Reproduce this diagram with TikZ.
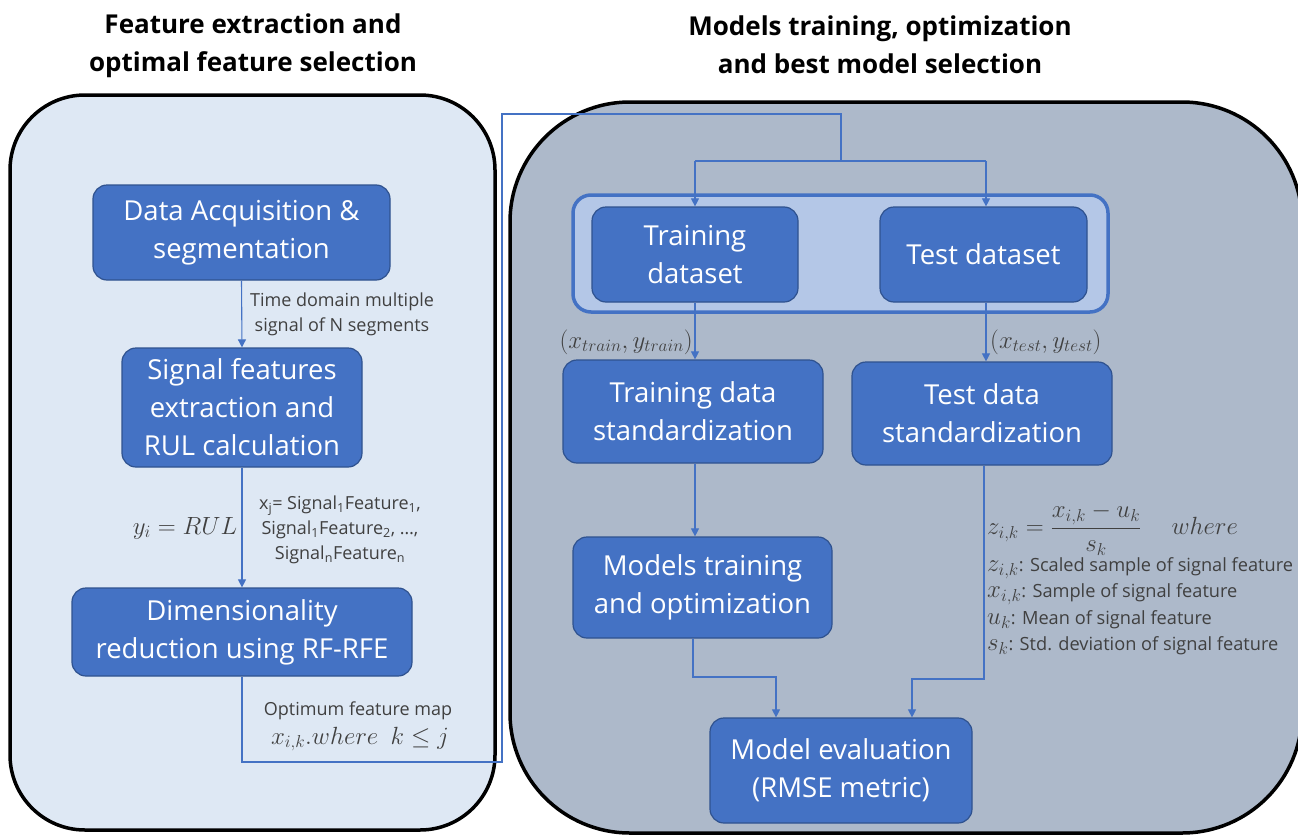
\documentclass[tikz,border=0pt]{standalone}
\usepackage{fontspec}
\setmainfont{Open Sans}
\usetikzlibrary{arrows.meta}
\definecolor{boxfill}{HTML}{4472C4}
\definecolor{boxborder}{HTML}{2F528F}
\definecolor{leftfill}{HTML}{DEE8F4}
\definecolor{rightfill}{HTML}{ADB9CA}
\definecolor{groupfill}{HTML}{B4C7E7}
\definecolor{linec}{HTML}{4472C4}
\definecolor{labelc}{HTML}{404040}
\newcommand{\legmath}[1]{{\fontsize{23}{22}\selectfont$#1$}}
\begin{document}
\begin{tikzpicture}[x=1pt,y=-1pt,
  box/.style={draw=boxborder, line width=1.2pt, fill=boxfill, rounded corners=14pt, text=white, align=center, font=\fontsize{27.5}{38}\selectfont, inner sep=0pt},
  conn/.style={draw=linec, line width=1.1pt},
  arr/.style={conn, -{Triangle[length=8pt,width=8pt]}},
  lbl/.style={text=labelc, align=center, font=\fontsize{18}{25}\selectfont, inner sep=0pt},
  mth/.style={text=labelc, inner sep=0pt, font=\fontsize{24}{26}\selectfont},
  legend/.style={text=labelc, inner sep=0pt, anchor=west, font=\fontsize{18.2}{22}\selectfont},
  title/.style={align=center, font=\fontsize{26}{38}\selectfont\bfseries, text=black, inner sep=0pt},
  panel/.style={draw=black, line width=3.5pt}]
\useasboundingbox (0,0) rectangle (1298,835);
\fill[white] (0,0) rectangle (1298,835);

% titles
\node[title] (t1) at (253,46) {Feature extraction and\\optimal feature selection};
\node[title] (t2) at (880,45) {Models training, optimization\\and best model selection};

% panels
\draw[panel, fill=leftfill, rounded corners=75pt] (10,95) rectangle (495,830);
\draw[panel, fill=rightfill, rounded corners=120pt] (510,102) rectangle (1302,833);
\draw[draw=linec, line width=3.5pt, fill=groupfill, rounded corners=18pt] (573,195) rectangle (1108,312);

% boxes
\node[box, minimum width=297pt, minimum height=95pt] (da) at (241.5,232.5) {Data Acquisition \&\\segmentation};
\node[box, minimum width=240pt, minimum height=119pt] (sf) at (242,407.5) {Signal features\\extraction and\\RUL calculation};
\node[box, minimum width=340pt, minimum height=88pt] (dr) at (242,632) {Dimensionality\\reduction using RF-RFE};
\node[box, minimum width=206pt, minimum height=95pt] (trd) at (695,254.5) {Training\\dataset};
\node[box, minimum width=207pt, minimum height=95pt] (ted) at (983.5,254.5) {Test dataset};
\node[box, minimum width=260pt, minimum height=103pt] (trs) at (693,411.5) {Training data\\standardization};
\node[box, minimum width=260pt, minimum height=103pt] (tes) at (982,413.5) {Test data\\standardization};
\node[box, minimum width=259pt, minimum height=101pt] (mt) at (702.5,587.5) {Models training\\and optimization};
\node[box, minimum width=262pt, minimum height=105pt] (me) at (841,770.5) {Model evaluation\\(RMSE metric)};

% connectors
\coordinate (c1) at (242,762);
\coordinate (c2) at (502,762);
\coordinate (c3) at (502,114);
\coordinate (c4) at (841,114);
\coordinate (c5) at (841,161);
\coordinate (c6) at (695,161);
\coordinate (c7) at (986,161);
\draw[arr] (da.south) -- (sf.north);
\draw[arr] (sf.south) -- (dr.north);
\draw[conn] (dr.south) -- (c1) -- (c2) -- (c3) -- (c4) -- (c5);
\draw[conn] (c6) -- (c7);
\draw[arr] (c6) -- (c6 |- trd.north);
\draw[arr] (c7) -- (c7 |- ted.north);
\draw[arr] (trd.south) -- (trd.south |- trs.north);
\draw[arr] (c7 |- ted.south) -- (c7 |- tes.north);
\draw[arr] (trd.south |- trs.south) -- (trd.south |- mt.north);
\coordinate (m1) at (693,677);
\coordinate (m2) at (776,677);
\coordinate (m3) at (984,679);
\coordinate (m4) at (912,679);
\draw[arr] (m1 |- mt.south) -- (m1) -- (m2) -- (m2 |- me.north);
\draw[arr] (m3 |- tes.south) -- (m3) -- (m4) -- (m4 |- me.north);

% labels
\node[lbl] (l1) at (342,314) {Time domain multiple\\signal of N segments};
\node[mth] (l2) at (185,528) {$y_i = RUL$};
\node[lbl] (l3) at (340,530) {x\textsubscript{j}= Signal\textsubscript{1}Feature\textsubscript{1},\\Signal\textsubscript{1}Feature\textsubscript{2}, \ldots,\\Signal\textsubscript{n}Feature\textsubscript{n}};
\node[lbl] (l4) at (358,711) {Optimum feature map};
\node[mth] (l5) at (360,739) {$x_{i,k}.where\ \ k \le j$};
\node[mth, anchor=west] (l6) at (692,342) {\llap{$(x_{train},y_{train})$}};
\node[mth, anchor=west] (l7) at (990,342) {$(x_{test},y_{test})$};
\node[mth, anchor=west] (f0) at (987,529) {$z_{i,k}=\displaystyle\frac{x_{i,k}-u_k}{s_k}\quad\ where$};
\node[legend] (f1) at (987,568) {\legmath{z_{i,k}}: Scaled sample of signal feature};
\node[legend] (f2) at (987,594) {\legmath{x_{i,k}}: Sample of signal feature};
\node[legend] (f3) at (987,620) {\legmath{u_k}: Mean of signal feature};
\node[legend] (f4) at (987,646) {\legmath{s_k}: Std. deviation of signal feature};
\end{tikzpicture}
\end{document}
